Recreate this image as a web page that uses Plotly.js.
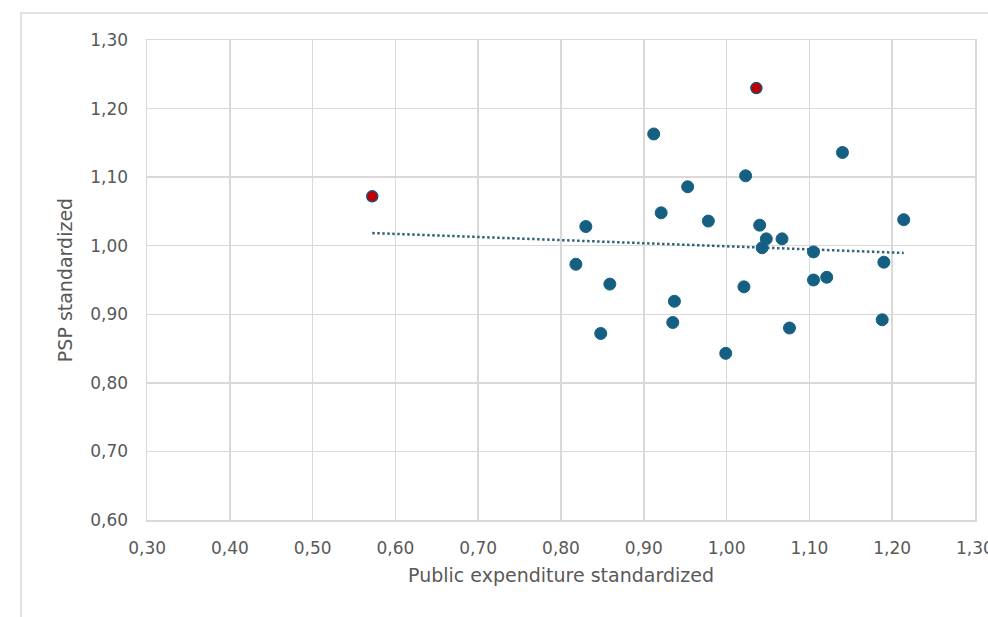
<!DOCTYPE html>
<html>
<head>
<meta charset="utf-8">
<script src="https://cdn.plot.ly/plotly-3.0.1.min.js"></script>
<style>html,body{margin:0;padding:0;background:#fff;overflow:hidden;}#chart{width:988px;height:617px;}</style>
</head>
<body>
<div id="chart"></div>
<script>
// Blue points (Public expenditure standardized, PSP standardized)
var blueX = [0.912, 1.023, 0.953, 0.921, 0.978, 0.830, 1.040, 1.048, 1.067, 1.043,
             0.818, 0.859, 0.937, 1.021, 0.935, 0.848, 0.999, 1.140, 1.214, 1.105,
             1.190, 1.105, 1.121, 1.076, 1.188];
var blueY = [1.163, 1.102, 1.086, 1.048, 1.036, 1.028, 1.030, 1.010, 1.010, 0.997,
             0.973, 0.944, 0.919, 0.940, 0.888, 0.872, 0.843, 1.136, 1.038, 0.991,
             0.976, 0.950, 0.954, 0.880, 0.892];
// Highlighted (red) points
var redX = [0.572, 1.036];
var redY = [1.072, 1.230];
// Linear trendline endpoints as drawn
var trendX = [0.572, 1.214];
var trendY = [1.0185, 0.9895];
// Axis ticks
var tickVals = [0.30, 0.40, 0.50, 0.60, 0.70, 0.80, 0.90, 1.00, 1.10, 1.20, 1.30];
var yTickVals = [0.60, 0.70, 0.80, 0.90, 1.00, 1.10, 1.20, 1.30];
function lbl(v){ return v.toFixed(2).replace('.', ','); }

var FONT = 'DejaVu Sans, Arial, sans-serif';
var GRAY = '#595959';
var GRID = '#d9d9d9';

var traces = [
  {
    x: trendX, y: trendY, type: 'scatter', mode: 'lines',
    line: {color: '#2f6479', width: 2.5, dash: '2.5px,2.5px'},
    hoverinfo: 'skip', showlegend: false
  },
  {
    x: blueX, y: blueY, type: 'scatter', mode: 'markers',
    marker: {color: '#156082', size: 12, line: {color: '#156082', width: 1}},
    showlegend: false
  },
  {
    x: redX, y: redY, type: 'scatter', mode: 'markers',
    marker: {color: '#c00000', size: 11, line: {color: '#1f4e79', width: 1.5}},
    showlegend: false
  }
];

var layout = {
  width: 988, height: 617,
  margin: {l: 147, r: 13, t: 40, b: 97},
  paper_bgcolor: '#ffffff', plot_bgcolor: '#ffffff',
  font: {family: FONT, color: GRAY, size: 17},
  showlegend: false,
  xaxis: {
    range: [0.2999, 1.3001], tickvals: tickVals, ticktext: tickVals.map(lbl),
    showgrid: true, gridcolor: GRID, gridwidth: 1.5,
    showline: true, linecolor: GRID, linewidth: 1.5, mirror: true,
    zeroline: false, ticks: '', ticklabelstandoff: 12, ticklabeloverflow: 'allow',
    tickfont: {family: FONT, size: 17, color: GRAY},
    title: {text: 'Public expenditure standardized', font: {family: FONT, size: 19, color: GRAY}, standoff: 12}
  },
  yaxis: {
    range: [0.5999, 1.3001], tickvals: yTickVals, ticktext: yTickVals.map(lbl),
    showgrid: true, gridcolor: GRID, gridwidth: 1.5,
    showline: true, linecolor: GRID, linewidth: 1.5, mirror: true,
    zeroline: false, ticks: '', ticklabelstandoff: 14, ticklabeloverflow: 'allow',
    tickfont: {family: FONT, size: 17, color: GRAY},
    title: {text: 'PSP standardized', font: {family: FONT, size: 19, color: GRAY}, standoff: 12}
  },
  shapes: [
    {type: 'rect', xref: 'paper', yref: 'paper', x0: -0.1522, x1: 1.03, y0: -0.23, y1: 1.05625,
     line: {color: '#e3e3e3', width: 2}, fillcolor: 'rgba(0,0,0,0)', layer: 'below'}
  ]
};

Plotly.newPlot('chart', traces, layout, {displayModeBar: false, staticPlot: true});
</script>
</body>
</html>
